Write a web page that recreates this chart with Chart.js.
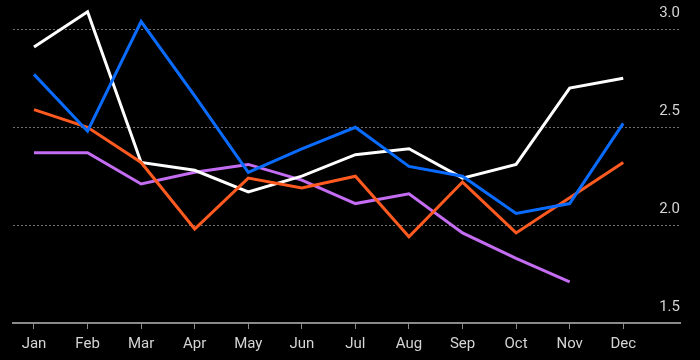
<!DOCTYPE html>
<html>
<head>
<meta charset="utf-8">
<script src="https://cdn.jsdelivr.net/npm/chart.js@4"></script>
<style>
  html, body { margin: 0; padding: 0; background: #000; }
  #wrap { width: 700px; height: 360px; }
</style>
</head>
<body>
<div id="wrap"><canvas id="a"></canvas></div>
<script>
const months = ["Jan", "Feb", "Mar", "Apr", "May", "Jun", "Jul", "Aug", "Sep", "Oct", "Nov", "Dec"];
const yTicks = [1.5, 2.0, 2.5, 3.0];

const blue   = [2.77, 2.48, 3.04, 2.66, 2.27, 2.39, 2.50, 2.30, 2.25, 2.06, 2.11, 2.52];
const orange = [2.59, 2.50, 2.32, 1.98, 2.24, 2.19, 2.25, 1.94, 2.22, 1.96, 2.14, 2.32];
const white  = [2.91, 3.09, 2.32, 2.28, 2.17, 2.25, 2.36, 2.39, 2.24, 2.31, 2.70, 2.75];
const purple = [2.37, 2.37, 2.21, 2.27, 2.31, 2.23, 2.11, 2.16, 1.96, 1.83, 1.71, null];

const pts = arr => arr.map((v, i) => ({ x: i, y: v }));

const line = (label, arr, color) => ({
  label: label,
  data: pts(arr),
  borderColor: color,
  borderWidth: 3,
  pointRadius: 0,
  tension: 0,
  fill: false,
  spanGaps: false
});

new Chart(document.getElementById("a"), {
  type: "line",
  data: {
    datasets: [
      line("Blue", blue, "#0a6cff"),
      line("Orange", orange, "#ff5a1f"),
      line("White", white, "#ffffff"),
      line("Purple", purple, "#c46cf2")
    ]
  },
  options: {
    responsive: true,
    maintainAspectRatio: false,
    animation: false,
    layout: { padding: { left: 13, right: 20, top: 5, bottom: 1.5 } },
    plugins: {
      legend: { display: false },
      tooltip: { enabled: false }
    },
    scales: {
      x: {
        type: "linear",
        min: -0.392,
        max: 12.06,
        afterBuildTicks: s => { s.ticks = months.map((m, i) => ({ value: i })); },
        grid: {
          drawOnChartArea: false,
          drawTicks: true,
          tickLength: 6,
          color: "#8a8a8a",
          lineWidth: 1
        },
        border: { color: "#8a8a8a", width: 2 },
        ticks: {
          autoSkip: false,
          maxRotation: 0,
          padding: 11,
          color: "#d4d4d4",
          font: { family: "Roboto", size: 15, lineHeight: 0.5 },
          callback: v => months[v]
        }
      },
      y: {
        position: "right",
        min: 1.5,
        max: 3.104,
        afterBuildTicks: s => { s.ticks = yTicks.map(v => ({ value: v })); },
        grid: {
          drawTicks: false,
          color: c => (c.tick && c.tick.value === 1.5 ? "rgba(0,0,0,0)" : "#707070"),
          lineWidth: 1
        },
        border: { display: false, dash: [2, 2] },
        ticks: {
          mirror: true,
          padding: 0,
          labelOffset: -16,
          color: "#d4d4d4",
          font: { family: "Roboto", size: 15 },
          callback: v => v.toFixed(1)
        }
      }
    }
  }
});
</script>
</body>
</html>
